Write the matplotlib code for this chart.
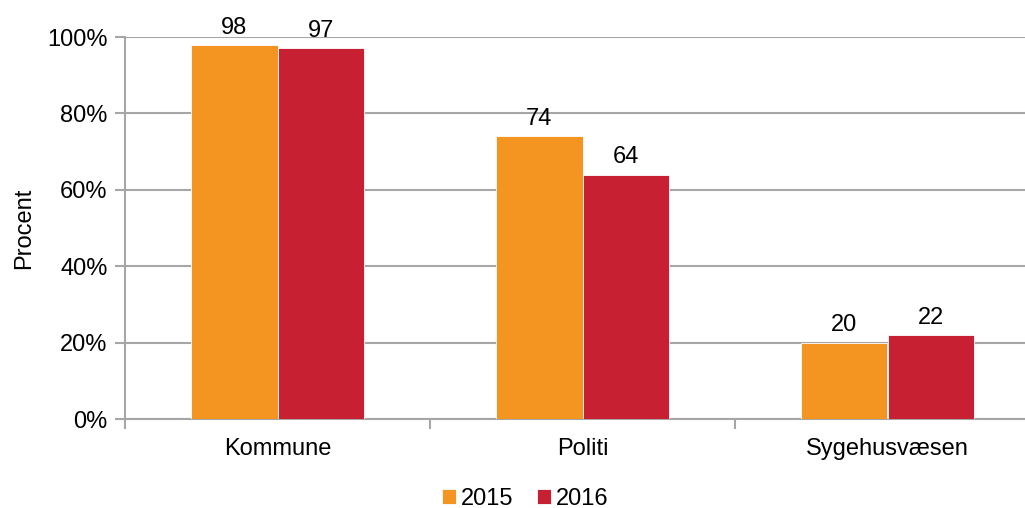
import numpy as np
import matplotlib.pyplot as plt

plt.rcParams['font.family'] = ['Liberation Sans', 'DejaVu Sans']

categories = ['Kommune', 'Politi', 'Sygehusvæsen']
years = ['2015', '2016']
values_2015 = [98, 74, 20]
values_2016 = [97, 64, 22]
colors = ['#F39520', '#C62032']

fs = 17

fig = plt.figure(figsize=(10.25, 5.08), dpi=100)
# right edge sits a little outside the figure, like the original
ax = fig.add_axes([125/1025, 1 - 419/508, 915/1025, 382/508])

x = np.arange(len(categories))
w = 0.285
b1 = ax.bar(x - w/2, values_2015, w, color=colors[0], edgecolor='white', linewidth=0.6, label=years[0], zorder=3)
b2 = ax.bar(x + w/2, values_2016, w, color=colors[1], edgecolor='white', linewidth=0.6, label=years[1], zorder=3)

for bars in (b1, b2):
    for r in bars:
        ax.text(r.get_x() + r.get_width()/2, r.get_height() + 1.6, f'{r.get_height():.0f}',
                ha='center', va='bottom', fontsize=fs)

ax.set_xlim(-0.5, len(categories) - 0.5)
ax.set_ylim(0, 100)
ax.set_yticks(np.arange(0, 101, 20))
ax.set_yticklabels([f'{v}%' for v in range(0, 101, 20)], fontsize=fs)
ax.set_xticks(x)
ax.set_xticklabels(categories, fontsize=fs)
ax.tick_params(axis='x', length=0, pad=14)
ax.tick_params(axis='y', length=7, color='#A6A6A6', width=1.5, pad=5.5)

# category separators as minor ticks
ax.set_xticks(np.arange(-0.5, len(categories)), minor=True)
ax.tick_params(axis='x', which='minor', length=7, color='#A6A6A6', width=1.5)

ax.yaxis.grid(True, color='#A6A6A6', linewidth=1.5, zorder=0)
for s in ['top', 'right']:
    ax.spines[s].set_visible(False)
for s in ['left', 'bottom']:
    ax.spines[s].set_color('#A6A6A6')
    ax.spines[s].set_linewidth(1.5)

ax.set_ylabel('Procent', fontsize=fs, labelpad=8.5)

fig.legend(loc='center', bbox_to_anchor=(525/1025, 1 - 499/508), ncol=2, frameon=False,
           fontsize=fs, handlelength=0.6, handleheight=0.6, handletextpad=0.2, columnspacing=1.0)

fig.savefig('out.png', dpi=100)
